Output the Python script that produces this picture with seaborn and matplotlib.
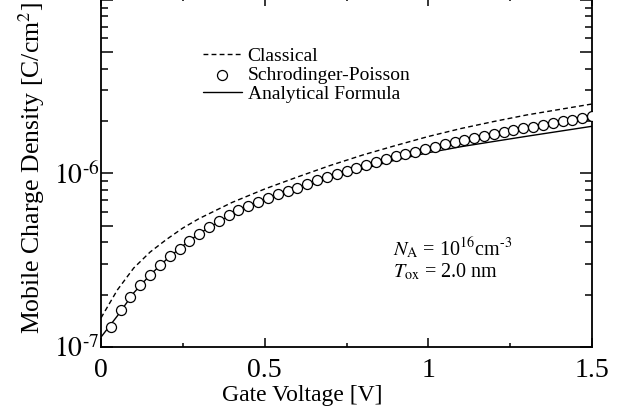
import matplotlib
matplotlib.use('Agg')
import matplotlib.pyplot as plt
from matplotlib.ticker import FixedLocator, FixedFormatter, MultipleLocator, NullFormatter, FuncFormatter
import seaborn as sns

# Schrodinger-Poisson points (gate voltage [V], charge [C/cm^2])
sp_v = [0.03, 0.06, 0.09, 0.12, 0.15, 0.18, 0.21, 0.24, 0.27, 0.30,
        0.33, 0.36, 0.39, 0.42, 0.45, 0.48, 0.51, 0.54, 0.57, 0.60,
        0.63, 0.66, 0.69, 0.72, 0.75, 0.78, 0.81, 0.84, 0.87, 0.90,
        0.93, 0.96, 0.99, 1.02, 1.05, 1.08, 1.11, 1.14, 1.17, 1.20,
        1.23, 1.26, 1.29, 1.32, 1.35, 1.38, 1.41, 1.44, 1.47, 1.50]
sp_q = [1.30e-7, 1.63e-7, 1.95e-7, 2.27e-7, 2.60e-7, 2.95e-7, 3.32e-7, 3.69e-7, 4.10e-7, 4.50e-7,
        4.91e-7, 5.31e-7, 5.72e-7, 6.11e-7, 6.48e-7, 6.84e-7, 7.18e-7, 7.55e-7, 7.91e-7, 8.28e-7,
        8.68e-7, 9.09e-7, 9.48e-7, 9.87e-7, 1.027e-6, 1.073e-6, 1.116e-6, 1.162e-6, 1.206e-6, 1.250e-6,
        1.291e-6, 1.335e-6, 1.380e-6, 1.423e-6, 1.467e-6, 1.510e-6, 1.555e-6, 1.597e-6, 1.640e-6, 1.684e-6,
        1.729e-6, 1.771e-6, 1.814e-6, 1.857e-6, 1.902e-6, 1.948e-6, 1.995e-6, 2.040e-6, 2.090e-6, 2.143e-6]

# classical curve
cl_v = [0, 0.05, 0.1, 0.15, 0.2, 0.25, 0.3, 0.4, 0.5, 0.6, 0.7, 0.8, 0.9, 1.0, 1.1, 1.2, 1.3, 1.4, 1.5]
cl_q = [1.47e-7, 2.13e-7, 2.85e-7, 3.52e-7, 4.16e-7, 4.84e-7, 5.49e-7, 6.79e-7, 8.12e-7, 9.52e-7,
        1.109e-6, 1.275e-6, 1.445e-6, 1.629e-6, 1.811e-6, 1.987e-6, 2.166e-6, 2.330e-6, 2.506e-6]

# analytical formula curve
an_v = [0, 0.05, 0.1, 0.15, 0.2, 0.25, 0.3, 0.4, 0.5, 0.6, 0.7, 0.8, 0.9, 1.0, 1.1, 1.2, 1.3, 1.4, 1.5]
an_q = [1.14e-7, 1.51e-7, 2.05e-7, 2.60e-7, 3.19e-7, 3.82e-7, 4.50e-7, 5.83e-7, 6.97e-7, 8.12e-7,
        9.36e-7, 1.059e-6, 1.193e-6, 1.314e-6, 1.423e-6, 1.525e-6, 1.633e-6, 1.745e-6, 1.865e-6]

HY = '\u2010'  # short hyphen used in the exponents
ytick_labels = ['$10^{' + HY + '7}$', '', '$10^{' + HY + '6}$', '', '']

sns.set_style('ticks')
plt.rcParams['font.family'] = ['Liberation Serif', 'DejaVu Serif']
plt.rcParams['mathtext.fontset'] = 'stix'
plt.rcParams['text.color'] = 'black'
plt.rcParams['axes.labelcolor'] = 'black'
plt.rcParams['xtick.color'] = 'black'
plt.rcParams['ytick.color'] = 'black'

fig = plt.figure(figsize=(6.31, 4.16), dpi=100)
ax = fig.add_axes([101/631, 69/416, 491/631, 350/416])
ax.set_yscale('log')

sns.lineplot(x=cl_v, y=cl_q, ax=ax, color='black', lw=1.0,
             linestyle=(0, (3.5, 2.3)), label='Classical')
sns.scatterplot(x=sp_v, y=sp_q, ax=ax, marker='o', s=52, facecolor='white',
                edgecolor='black', linewidth=0.9, label='Schrodinger-Poisson', zorder=3)
sns.lineplot(x=an_v, y=an_q, ax=ax, color='black', lw=1.0, label='Analytical Formula')

ax.set_xlim(0, 1.5)
ax.set_ylim(1e-7, 1.035e-5)

# ticks
ax.xaxis.set_major_locator(MultipleLocator(0.5))
ax.xaxis.set_minor_locator(MultipleLocator(0.25))
ax.xaxis.set_major_formatter(FuncFormatter(lambda v, p: '%g' % v))
ax.yaxis.set_major_locator(FixedLocator([1e-7, 5e-7, 1e-6, 5e-6, 1e-5]))
ax.yaxis.set_major_formatter(FixedFormatter(ytick_labels))
minors = [m * 1e-7 for m in (2, 3, 4, 6, 7, 8, 9)] + [m * 1e-6 for m in (2, 3, 4, 6, 7, 8, 9)]
ax.yaxis.set_minor_locator(FixedLocator(minors))
ax.yaxis.set_minor_formatter(NullFormatter())

ax.tick_params(which='both', direction='in', top=True, right=True, width=1.1, colors='black')
ax.tick_params(axis='x', which='major', length=6.5, pad=8, labelsize=20)
ax.tick_params(axis='x', which='minor', length=2.9)
ax.tick_params(axis='y', which='major', length=8.4, pad=1, labelsize=20)
ax.tick_params(axis='y', which='minor', length=5)

for side in ['left', 'right', 'bottom']:
    ax.spines[side].set_linewidth(1.3)
    ax.spines[side].set_color('black')
ax.spines['top'].set_visible(False)

ax.set_xlabel('Gate Voltage [V]', fontsize=17)
ax.set_ylabel(r'Mobile Charge Density [C/cm$^2$]', fontsize=18.5)
ax.xaxis.set_label_coords(0.409, -0.11)
ax.yaxis.set_label_coords(-0.11, 0.511)

ax.legend(loc='upper left', bbox_to_anchor=(203/631, (416-47)/416), bbox_transform=fig.transFigure,
          frameon=False, fontsize=14, handlelength=2.0, handletextpad=0.3,
          labelspacing=0.08, borderpad=0, borderaxespad=0)

ax.text(0.595, 0.262, '$N_{\\rm A}$ = 10$^{16}$cm$^{' + HY + '3}$', transform=ax.transAxes,
        fontsize=14.5, va='baseline')
ax.text(0.595, 0.2, '$T_{\\rm ox}$ = 2.0 nm', transform=ax.transAxes,
        fontsize=14.5, va='baseline')

fig.savefig('out.png', dpi=100)
